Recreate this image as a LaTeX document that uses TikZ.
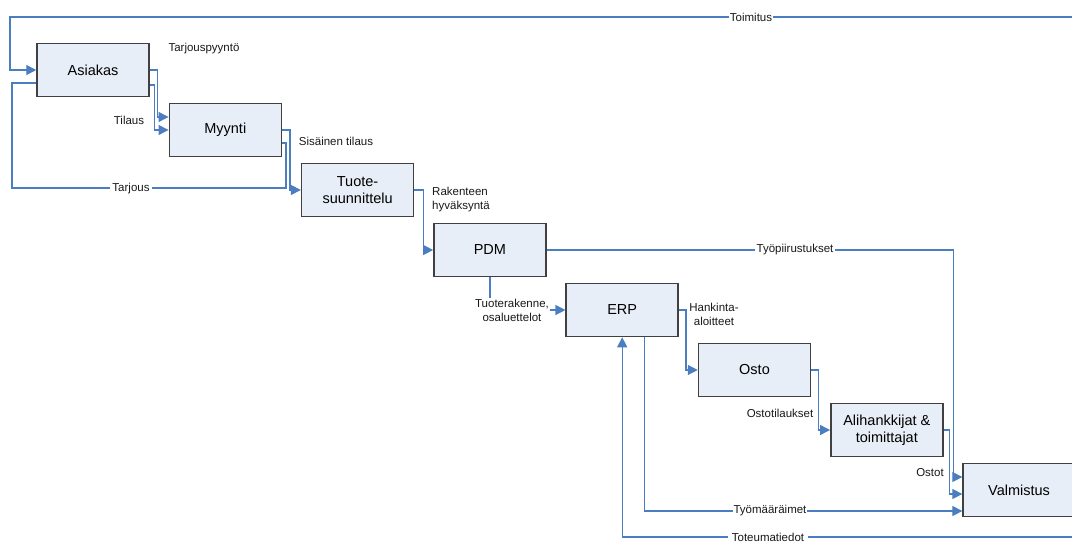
\documentclass[tikz,border=0pt]{standalone}
\usepackage{fontspec}
\setmainfont{Liberation Sans}
\usepackage{tikz}
\usetikzlibrary{arrows.meta, positioning}
\definecolor{flowblue}{RGB}{74,126,193}
\definecolor{boxfill}{RGB}{232,238,247}
\tikzset{
proc/.style={shape=rectangle, minimum width=112pt, minimum height=53pt, inner sep=0, draw=black!75, line width=1.5pt, fill=boxfill, align=center, font=\fontsize{14.5}{17}\selectfont},
flow/.style={draw=flowblue, line width=1.2pt, -{Triangle[length=10pt, width=10pt]}},
plain/.style={flow, -},
lbl/.style={font=\fontsize{11.5}{14}\selectfont, inner sep=1pt, align=center, text=black!90},
onlbl/.style={lbl, fill=white, inner sep=2pt}}

\begin{document}
\begin{tikzpicture}[x=1pt, y=-1pt]
\useasboundingbox (0,0) rectangle (1072,543);
\foreach \boxid/\boxtxt [count=\j, evaluate={\bx=93+132.3*(\j-1); \by=70+60*(\j-1);}] in {asiakas/Asiakas, myynti/Myynti, tuote/{Tuote-\\suunnittelu}, pdm/PDM, erp/ERP, osto/Osto, alih/{Alihankkijat \&\\toimittajat}, valmistus/Valmistus}{
      \node [proc] at (\bx, \by) (\boxid) {\boxtxt};
}
\coordinate (toprail) at (10,17);
\coordinate (leftrail) at (12,0);
\coordinate (fb) at (erp.south |- 0,537);

% asiakas <-> myynti
\draw [flow] (asiakas.east) -- ++(8,0) |- ([yshift=13pt]myynti.west);
\draw [flow] ([yshift=-15pt]asiakas.east) -- ++(5,0) |- (myynti.west);
\draw [plain] ([yshift=-13pt]myynti.east) -- ++(4,0) -- ++(0,45) coordinate (t1) -- (t1 -| leftrail) |- ([yshift=-13pt]asiakas.west);
\node [lbl] at (204,49) (l-pyynto) {Tarjouspyyntö};
\node [lbl] at (129,120) (l-tilaus) {Tilaus};
\node [onlbl] at (131,189) (l-tarjous) {Tarjous};

% down the chain
\draw [flow] (myynti.east) -- ++(8,0) |- (tuote.west);
\node [lbl] at (336,141) (l-sisainen) {Sisäinen tilaus};
\draw [flow] (tuote.east) -- ++(9,0) |- (pdm.west);
\node [lbl, align=left] at (461,200) (l-rakenne) {Rakenteen\\hyväksyntä};
\draw [flow] (pdm.south) |- (erp.west);
\node [onlbl, inner sep=1pt] at (512,310) (l-tuoterak) {Tuoterakenne,\\osaluettelot};
\draw [flow] (erp.east) -- ++(7,0) |- (osto.west);
\node [lbl] at (714,314) (l-hankinta) {Hankinta-\\aloitteet};
\draw [flow] (osto.east) -- ++(7,0) |- (alih.west);
\node [lbl] at (780,413) (l-ostotil) {Ostotilaukset};

% into valmistus
\draw [flow] (pdm.east) -| ([xshift=-9pt, yshift=13pt]valmistus.west) -- ([yshift=13pt]valmistus.west);
\node [onlbl] at (795,250) (l-piirustus) {Työpiirustukset};
\draw [flow] (alih.east) -| ([xshift=-13pt, yshift=-4pt]valmistus.west) -- ([yshift=-4pt]valmistus.west);
\node [lbl] at (930,473) (l-ostot) {Ostot};
\draw [flow] ([xshift=22pt]erp.south) |- ([yshift=-21pt]valmistus.west);
\node [onlbl, inner sep=1pt] at (770,511) (l-tyomaar) {Työmääräimet};

% back from valmistus
\draw [flow] (valmistus.east) -- ++(20,0) |- (fb) -- (erp.south);
\node [onlbl, inner sep=4pt] at (768,537) (l-toteuma) {Toteumatiedot};
\draw [flow] (valmistus.east) -- ++(20,0) |- (toprail) |- (asiakas.west);
\node [onlbl, inner sep=1pt] at (751,17) (l-toimitus) {Toimitus};
\end{tikzpicture}
\end{document}
